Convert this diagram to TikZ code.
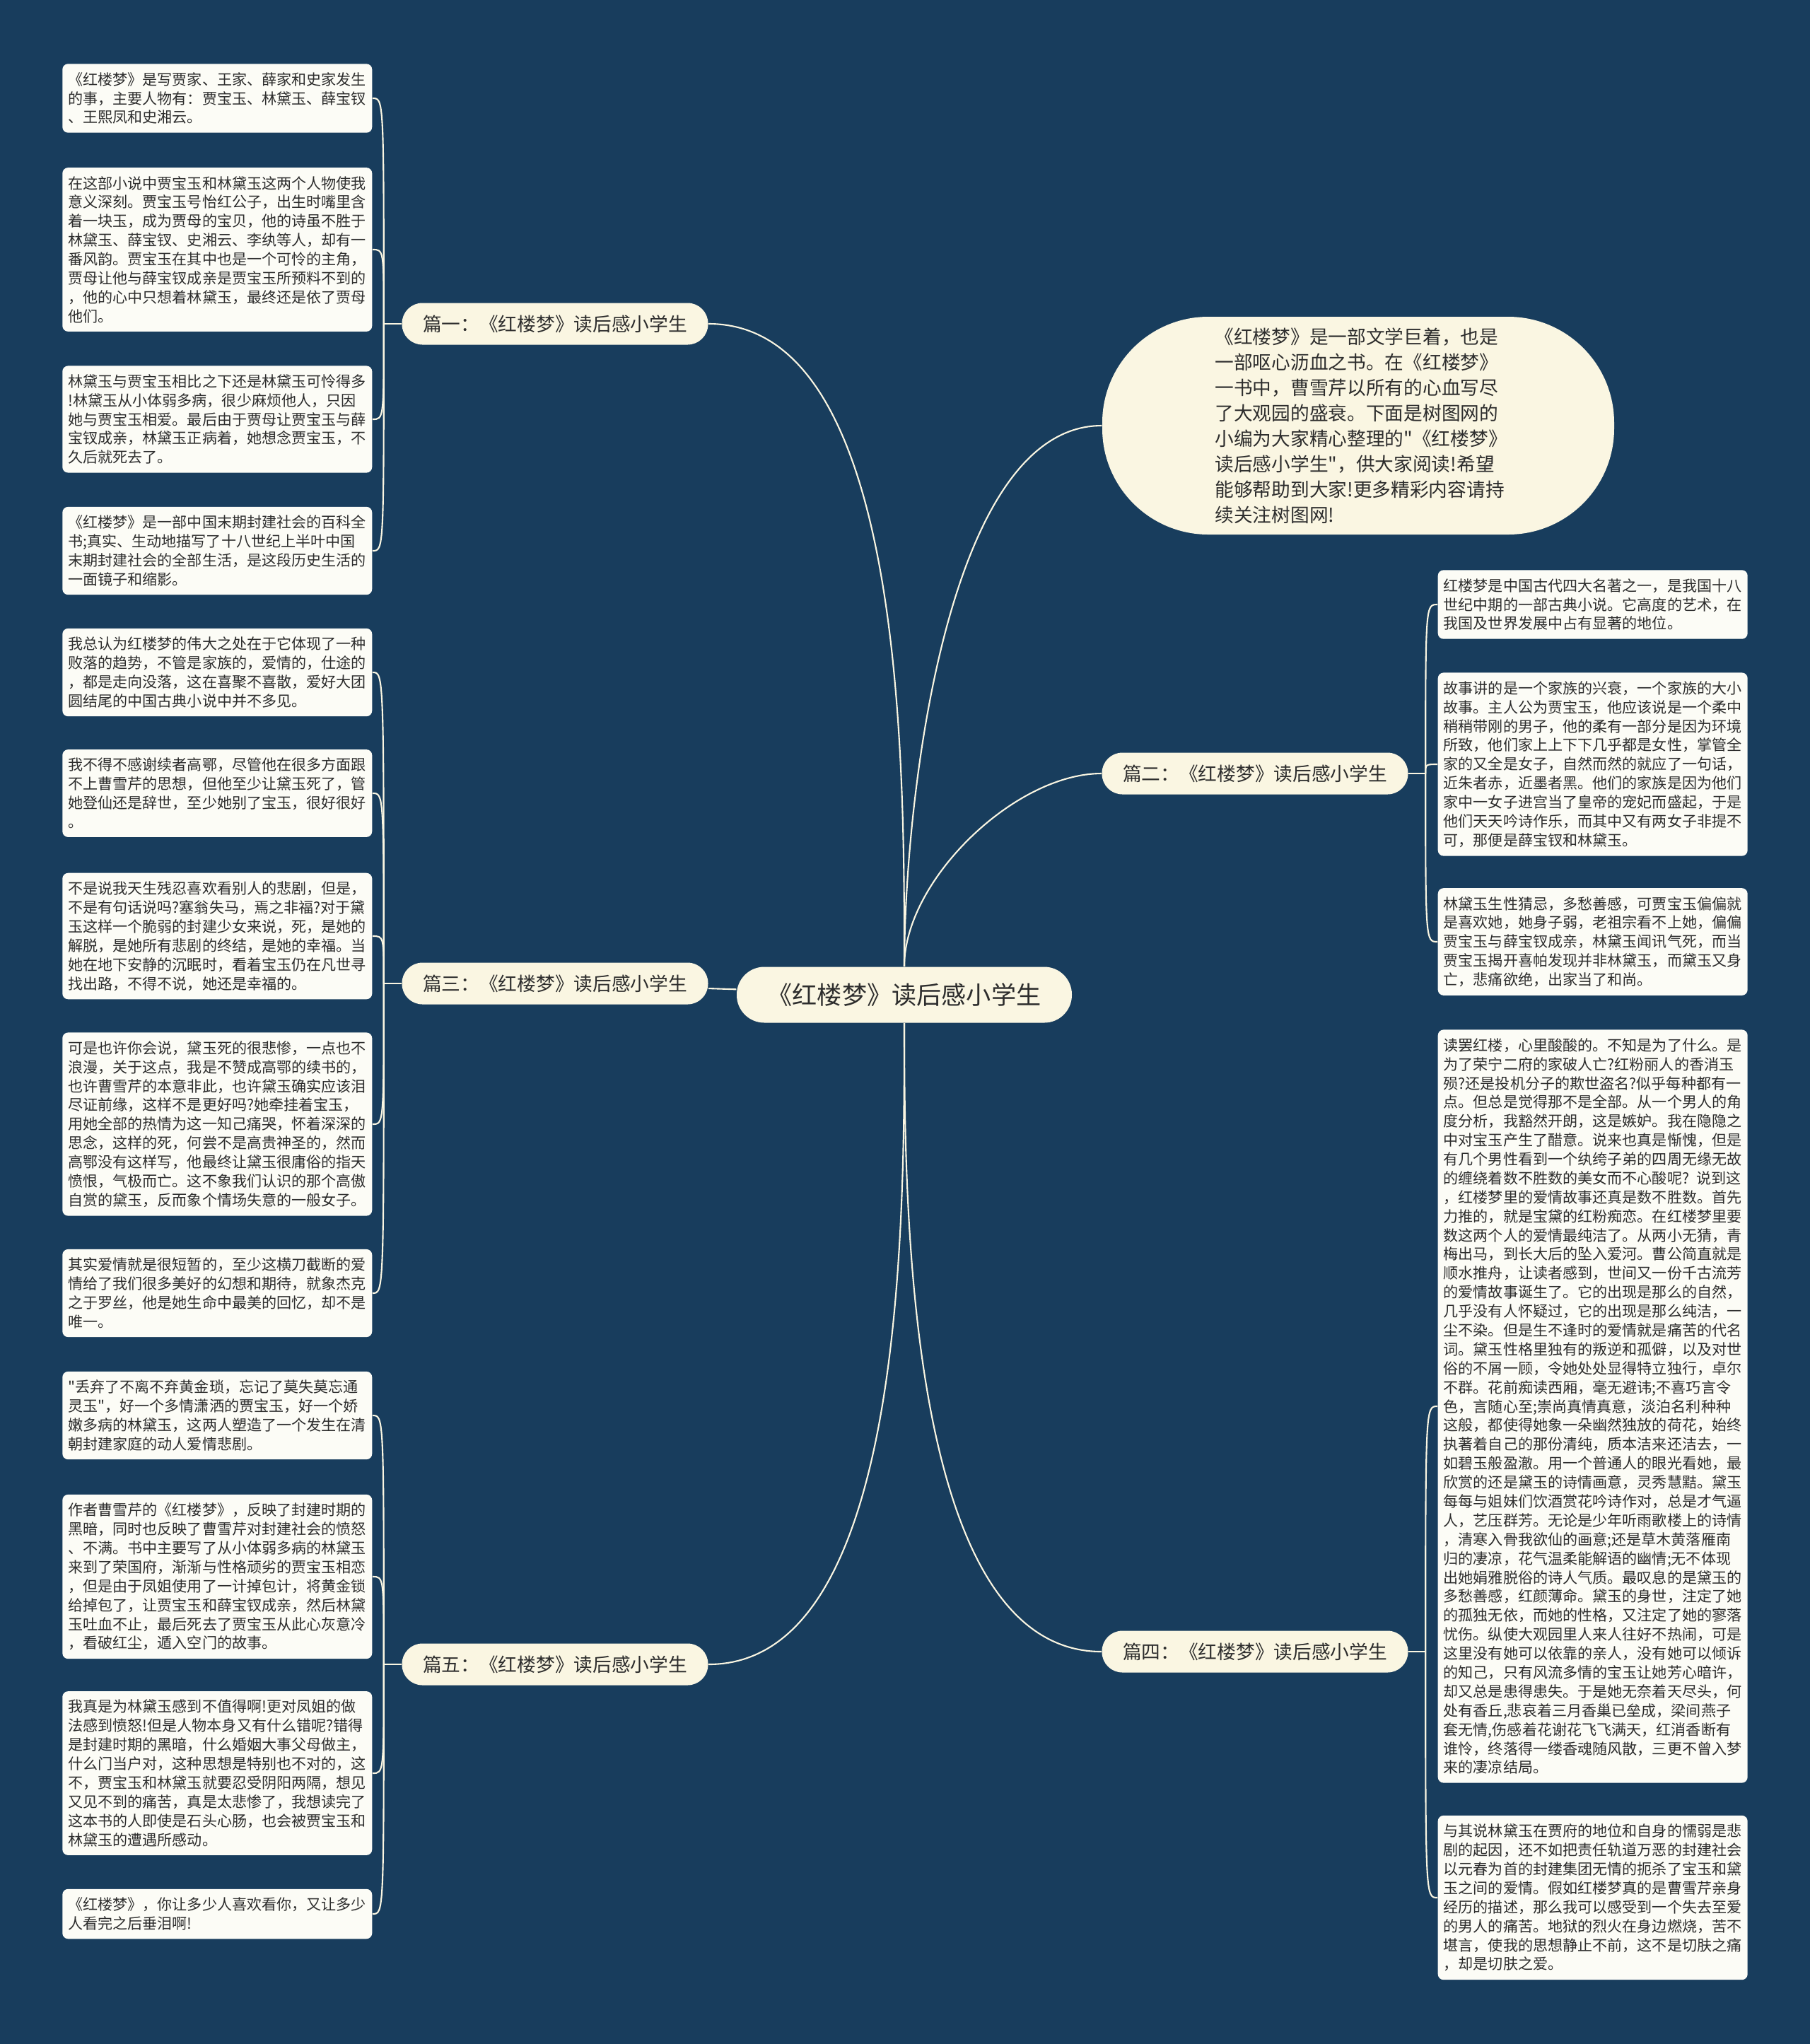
\documentclass[tikz,border=0pt]{standalone}
\usepackage{fontspec}
\newfontfamily\cjk{Noto Sans CJK SC}
\usepackage{xcolor}
\usepackage{tikz}
\usetikzlibrary{calc}
\definecolor{bgblue}{RGB}{24, 61, 93}
\definecolor{nodecream}{RGB}{250, 246, 226}
\definecolor{leafwhite}{RGB}{252, 252, 246}
\definecolor{textdark}{RGB}{45, 45, 45}

\begin{document}
\begin{tikzpicture}[
  root/.style={rectangle, rounded corners=0.39cm, fill=nodecream, text=textdark, minimum width=4.74cm, minimum height=0.79cm, font=\cjk\fontsize{10}{12}\selectfont},
  branch/.style={rectangle, rounded corners=0.29cm, fill=nodecream, text=textdark, minimum width=4.33cm, minimum height=0.59cm, font=\cjk\fontsize{7.6}{9}\selectfont},
  intro/.style={rectangle, rounded corners=1.5cm, fill=nodecream, text=textdark, minimum width=7.24cm, minimum height=3.08cm, text width=4.05cm, align=left, font=\cjk\fontsize{7.6}{10.25}\selectfont},
  leaf/.style={rectangle, rounded corners=0.08cm, fill=leafwhite, text=textdark, text width=4.22cm, inner xsep=0.08cm, inner ysep=0.12cm, align=left, font=\cjk\fontsize{6}{7.65}\selectfont},
  link/.style={draw=nodecream, line width=0.6pt}
]
  % background
  \fill[bgblue] (0,0) rectangle (25.6,-28.91);
  \useasboundingbox (0,0) rectangle (25.6,-28.91);

  % centre and branches
  \node[root] (root) at (12.79,-14.07) {《红楼梦》读后感小学生};
  \node[branch] (b1) at (7.85,-4.58) {篇一：《红楼梦》读后感小学生};
  \node[branch] (b3) at (7.85,-13.91) {篇三：《红楼梦》读后感小学生};
  \node[branch] (b5) at (7.85,-23.54) {篇五：《红楼梦》读后感小学生};
  \node[branch] (b2) at (17.75,-10.94) {篇二：《红楼梦》读后感小学生};
  \node[branch] (b4) at (17.75,-23.36) {篇四：《红楼梦》读后感小学生};
  \node[intro] (intro) at (19.21,-6.02) {《红楼梦》是一部文学巨着，也是\\一部呕心沥血之书。在《红楼梦》\\一书中，曹雪芹以所有的心血写尽\\了大观园的盛衰。下面是树图网的\\小编为大家精心整理的"《红楼梦》\\读后感小学生"，供大家阅读!希望\\能够帮助到大家!更多精彩内容请持\\续关注树图网!};

  % left leaves
  \node[leaf, anchor=east] (l1) at (5.27,-1.39) {《红楼梦》是写贾家、王家、薛家和史家发生\\的事，主要人物有：贾宝玉、林黛玉、薛宝钗\\、王熙凤和史湘云。};
  \node[leaf, anchor=east] (l2) at (5.27,-3.53) {在这部小说中贾宝玉和林黛玉这两个人物使我\\意义深刻。贾宝玉号怡红公子，出生时嘴里含\\着一块玉，成为贾母的宝贝，他的诗虽不胜于\\林黛玉、薛宝钗、史湘云、李纨等人，却有一\\番风韵。贾宝玉在其中也是一个可怜的主角，\\贾母让他与薛宝钗成亲是贾宝玉所预料不到的\\，他的心中只想着林黛玉，最终还是依了贾母\\他们。};
  \node[leaf, anchor=east] (l3) at (5.27,-5.93) {林黛玉与贾宝玉相比之下还是林黛玉可怜得多\\!林黛玉从小体弱多病，很少麻烦他人，只因\\她与贾宝玉相爱。最后由于贾母让贾宝玉与薛\\宝钗成亲，林黛玉正病着，她想念贾宝玉，不\\久后就死去了。};
  \node[leaf, anchor=east] (l4) at (5.27,-7.79) {《红楼梦》是一部中国末期封建社会的百科全\\书;真实、生动地描写了十八世纪上半叶中国\\末期封建社会的全部生活，是这段历史生活的\\一面镜子和缩影。};
  \node[leaf, anchor=east] (l5) at (5.27,-9.51) {我总认为红楼梦的伟大之处在于它体现了一种\\败落的趋势，不管是家族的，爱情的，仕途的\\，都是走向没落，这在喜聚不喜散，爱好大团\\圆结尾的中国古典小说中并不多见。};
  \node[leaf, anchor=east] (l6) at (5.27,-11.22) {我不得不感谢续者高鄂，尽管他在很多方面跟\\不上曹雪芹的思想，但他至少让黛玉死了，管\\她登仙还是辞世，至少她别了宝玉，很好很好\\。};
  \node[leaf, anchor=east] (l7) at (5.27,-13.24) {不是说我天生残忍喜欢看别人的悲剧，但是，\\不是有句话说吗?塞翁失马，焉之非福?对于黛\\玉这样一个脆弱的封建少女来说，死，是她的\\解脱，是她所有悲剧的终结，是她的幸福。当\\她在地下安静的沉眠时，看着宝玉仍在凡世寻\\找出路，不得不说，她还是幸福的。};
  \node[leaf, anchor=east] (l8) at (5.27,-15.90) {可是也许你会说，黛玉死的很悲惨，一点也不\\浪漫，关于这点，我是不赞成高鄂的续书的，\\也许曹雪芹的本意非此，也许黛玉确实应该泪\\尽证前缘，这样不是更好吗?她牵挂着宝玉，\\用她全部的热情为这一知己痛哭，怀着深深的\\思念，这样的死，何尝不是高贵神圣的，然而\\高鄂没有这样写，他最终让黛玉很庸俗的指天\\愤恨，气极而亡。这不象我们认识的那个高傲\\自赏的黛玉，反而象个情场失意的一般女子。};
  \node[leaf, anchor=east] (l9) at (5.27,-18.29) {其实爱情就是很短暂的，至少这横刀截断的爱\\情给了我们很多美好的幻想和期待，就象杰克\\之于罗丝，他是她生命中最美的回忆，却不是\\唯一。};
  \node[leaf, anchor=east] (l10) at (5.27,-20.02) {"丢弃了不离不弃黄金琐，忘记了莫失莫忘通\\灵玉"，好一个多情潇洒的贾宝玉，好一个娇\\嫩多病的林黛玉，这两人塑造了一个发生在清\\朝封建家庭的动人爱情悲剧。};
  \node[leaf, anchor=east] (l11) at (5.27,-22.30) {作者曹雪芹的《红楼梦》，反映了封建时期的\\黑暗，同时也反映了曹雪芹对封建社会的愤怒\\、不满。书中主要写了从小体弱多病的林黛玉\\来到了荣国府，渐渐与性格顽劣的贾宝玉相恋\\，但是由于凤姐使用了一计掉包计，将黄金锁\\给掉包了，让贾宝玉和薛宝钗成亲，然后林黛\\玉吐血不止，最后死去了贾宝玉从此心灰意冷\\，看破红尘，遁入空门的故事。};
  \node[leaf, anchor=east] (l12) at (5.27,-25.08) {我真是为林黛玉感到不值得啊!更对凤姐的做\\法感到愤怒!但是人物本身又有什么错呢?错得\\是封建时期的黑暗，什么婚姻大事父母做主，\\什么门当户对，这种思想是特别也不对的，这\\不，贾宝玉和林黛玉就要忍受阴阳两隔，想见\\又见不到的痛苦，真是太悲惨了，我想读完了\\这本书的人即使是石头心肠，也会被贾宝玉和\\林黛玉的遭遇所感动。};
  \node[leaf, anchor=east] (l13) at (5.27,-27.07) {《红楼梦》，你让多少人喜欢看你，又让多少\\人看完之后垂泪啊!};

  % right leaves
  \node[leaf, anchor=west] (r1) at (20.33,-8.55) {红楼梦是中国古代四大名著之一，是我国十八\\世纪中期的一部古典小说。它高度的艺术，在\\我国及世界发展中占有显著的地位。};
  \node[leaf, anchor=west] (r2) at (20.33,-10.81) {故事讲的是一个家族的兴衰，一个家族的大小\\故事。主人公为贾宝玉，他应该说是一个柔中\\稍稍带刚的男子，他的柔有一部分是因为环境\\所致，他们家上上下下几乎都是女性，掌管全\\家的又全是女子，自然而然的就应了一句话，\\近朱者赤，近墨者黑。他们的家族是因为他们\\家中一女子进宫当了皇帝的宠妃而盛起，于是\\他们天天吟诗作乐，而其中又有两女子非提不\\可，那便是薛宝钗和林黛玉。};
  \node[leaf, anchor=west] (r3) at (20.33,-13.32) {林黛玉生性猜忌，多愁善感，可贾宝玉偏偏就\\是喜欢她，她身子弱，老祖宗看不上她，偏偏\\贾宝玉与薛宝钗成亲，林黛玉闻讯气死，而当\\贾宝玉揭开喜帕发现并非林黛玉，而黛玉又身\\亡，悲痛欲绝，出家当了和尚。};
  \node[leaf, anchor=west] (r4) at (20.33,-19.89) {读罢红楼，心里酸酸的。不知是为了什么。是\\为了荣宁二府的家破人亡?红粉丽人的香消玉\\殒?还是投机分子的欺世盗名?似乎每种都有一\\点。但总是觉得那不是全部。从一个男人的角\\度分析，我豁然开朗，这是嫉妒。我在隐隐之\\中对宝玉产生了醋意。说来也真是惭愧，但是\\有几个男性看到一个纨绔子弟的四周无缘无故\\的缠绕着数不胜数的美女而不心酸呢? 说到这\\，红楼梦里的爱情故事还真是数不胜数。首先\\力推的，就是宝黛的红粉痴恋。在红楼梦里要\\数这两个人的爱情最纯洁了。从两小无猜，青\\梅出马，到长大后的坠入爱河。曹公简直就是\\顺水推舟，让读者感到，世间又一份千古流芳\\的爱情故事诞生了。它的出现是那么的自然，\\几乎没有人怀疑过，它的出现是那么纯洁，一\\尘不染。但是生不逢时的爱情就是痛苦的代名\\词。黛玉性格里独有的叛逆和孤僻，以及对世\\俗的不屑一顾，令她处处显得特立独行，卓尔\\不群。花前痴读西厢，毫无避讳;不喜巧言令\\色，言随心至;崇尚真情真意，淡泊名利种种\\这般，都使得她象一朵幽然独放的荷花，始终\\执著着自己的那份清纯，质本洁来还洁去，一\\如碧玉般盈澈。用一个普通人的眼光看她，最\\欣赏的还是黛玉的诗情画意，灵秀慧黠。黛玉\\每每与姐妹们饮酒赏花吟诗作对，总是才气逼\\人，艺压群芳。无论是少年听雨歌楼上的诗情\\，清寒入骨我欲仙的画意;还是草木黄落雁南\\归的凄凉，花气温柔能解语的幽情;无不体现\\出她娟雅脱俗的诗人气质。最叹息的是黛玉的\\多愁善感，红颜薄命。黛玉的身世，注定了她\\的孤独无依，而她的性格，又注定了她的寥落\\忧伤。纵使大观园里人来人往好不热闹，可是\\这里没有她可以依靠的亲人，没有她可以倾诉\\的知己，只有风流多情的宝玉让她芳心暗许，\\却又总是患得患失。于是她无奈着天尽头，何\\处有香丘,悲哀着三月香巢已垒成，梁间燕子\\套无情,伤感着花谢花飞飞满天，红消香断有\\谁怜，终落得一缕香魂随风散，三更不曾入梦\\来的凄凉结局。};
  \node[leaf, anchor=west] (r5) at (20.33,-26.84) {与其说林黛玉在贾府的地位和自身的懦弱是悲\\剧的起因，还不如把责任轨道万恶的封建社会\\以元春为首的封建集团无情的扼杀了宝玉和黛\\玉之间的爱情。假如红楼梦真的是曹雪芹亲身\\经历的描述，那么我可以感受到一个失去至爱\\的男人的痛苦。地狱的烈火在身边燃烧，苦不\\堪言，使我的思想静止不前，这不是切肤之痛\\，却是切肤之爱。};

  % centre to branches
  \draw[link] (root.north) to[out=90, in=0, looseness=0.75] (b1.east);
  \draw[link] (root.north) to[out=90, in=180, looseness=0.7] (intro.west);
  \draw[link] (root.north) to[out=90, in=180, looseness=0.8] (b2.west);
  \draw[link] (root) -- (b3);
  \draw[link] (root.south) to[out=270, in=0, looseness=0.75] (b5.east);
  \draw[link] (root.south) to[out=270, in=180, looseness=0.75] (b4.west);

  % branches to leaves
  \draw[link] (b1.west) -- ++(-0.25,0) coordinate (j1);
  \draw[link] (b3.west) -- ++(-0.25,0) coordinate (j3);
  \draw[link] (b5.west) -- ++(-0.25,0) coordinate (j5);
  \draw[link] (b2.east) -- ++(0.24,0) coordinate (j2);
  \draw[link] (b4.east) -- ++(0.24,0) coordinate (j4);
  \foreach \leaf in {l1,l2,l3,l4}
    \draw[link] (j1) .. controls (j1 |- \leaf.east) .. (\leaf.east);
  \foreach \leaf in {l5,l6,l7,l8,l9}
    \draw[link] (j3) .. controls (j3 |- \leaf.east) .. (\leaf.east);
  \foreach \leaf in {l10,l11,l12,l13}
    \draw[link] (j5) .. controls (j5 |- \leaf.east) .. (\leaf.east);
  \foreach \leaf in {r1,r2,r3}
    \draw[link] (j2) .. controls (j2 |- \leaf.west) .. (\leaf.west);
  \foreach \leaf in {r4,r5}
    \draw[link] (j4) .. controls (j4 |- \leaf.west) .. (\leaf.west);
\end{tikzpicture}
\end{document}
